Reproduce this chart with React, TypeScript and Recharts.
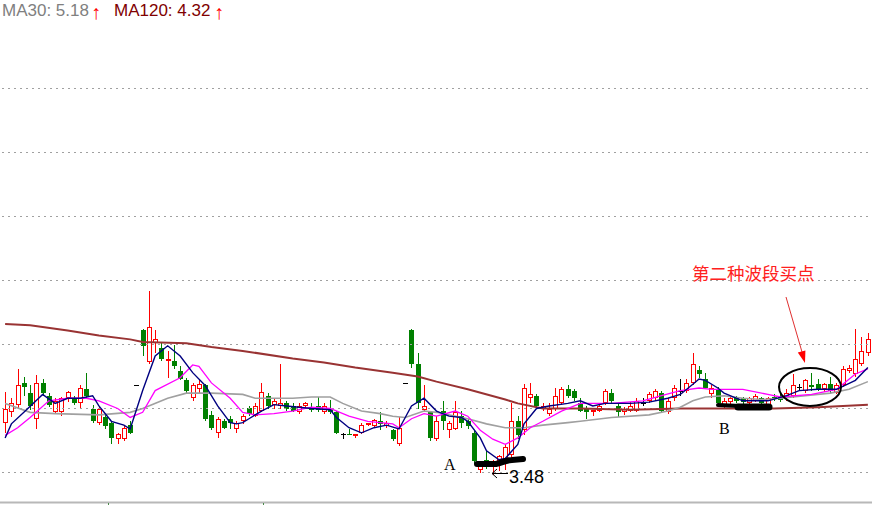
import React from "react";
import { Bar, ComposedChart, Line, ReferenceLine, XAxis, YAxis } from "recharts";

// daily candles, left to right (price, yuan)
const opens = [
  3.89, 3.97, 4.03, 4.2, 4.12, 3.92, 4.2, 4.1, 3.97, 3.97, 4.08, 4.08, 4.04, 4.15, 4.0, 3.89, 3.93, 3.89, 3.76, 3.76,
  3.87, 4.18, 4.61, 4.36, 4.51, 4.47, 4.37, 4.37, 4.29, 4.22, 4.08, 4.15, 4.18, 3.95, 3.81, 3.9, 3.92, 3.84, 3.9, 4.0,
  3.94, 3.98, 4.1, 4.03, 4.02, 4.04, 4.02, 3.97, 4.02, 4.01, 4.02, 3.97, 4.0, 3.97, 3.8, 3.8, 3.79, 3.81, 3.87, 3.86,
  3.9, 3.86, 3.83, 3.72, 4.2, 4.61, 4.35, 3.99, 3.97, 3.76, 3.98, 3.83, 3.84, 3.94, 3.9, 3.81, 3.52, 3.6, 3.54, 3.56,
  3.59, 3.64, 3.9, 3.83, 4.08, 4.1, 4.0, 3.96, 4.0, 4.04, 4.15, 4.14, 4.04, 4.0, 3.97, 3.98, 4.04, 4.12, 4.02, 3.97,
  3.98, 3.98, 4.04, 4.06, 4.08, 4.12, 3.97, 4.08, 4.14, 4.14, 4.2, 4.3, 4.23, 4.11, 4.15, 4.02, 4.05, 4.09, 4.08, 4.04,
  4.06, 4.08, 4.02, 4.09, 4.09, 4.08, 4.1, 4.17, 4.14, 4.18, 4.19, 4.15, 4.19, 4.12, 4.18, 4.29, 4.27, 4.35, 4.43,
];
const highs = [
  4.13, 4.08, 4.31, 4.25, 4.18, 4.26, 4.23, 4.12, 4.08, 4.09, 4.14, 4.1, 4.18, 4.28, 4.03, 4.01, 3.96, 3.9, 3.81, 3.87,
  3.9, 4.18, 4.62, 4.92, 4.61, 4.51, 4.45, 4.5, 4.33, 4.24, 4.2, 4.22, 4.19, 3.98, 3.93, 3.92, 3.94, 3.9, 3.96, 4.02,
  4.04, 4.2, 4.12, 4.08, 4.35, 4.06, 4.04, 4.04, 4.05, 4.04, 4.09, 4.04, 4.07, 3.98, 3.81, 3.84, 3.8, 3.89, 3.89, 3.92,
  3.97, 3.9, 3.84, 3.93, 4.2, 4.62, 4.43, 4.18, 3.98, 3.94, 4.06, 3.9, 4.06, 3.98, 3.92, 3.83, 3.56, 3.67, 3.6, 3.64,
  3.72, 4.04, 3.94, 4.19, 4.2, 4.11, 4.04, 4.04, 4.16, 4.17, 4.18, 4.15, 4.08, 4.02, 3.99, 4.04, 4.15, 4.15, 4.04, 4.01,
  4.05, 4.08, 4.08, 4.13, 4.15, 4.14, 4.08, 4.18, 4.23, 4.23, 4.43, 4.33, 4.28, 4.18, 4.17, 4.08, 4.09, 4.1, 4.09, 4.09,
  4.11, 4.09, 4.09, 4.11, 4.12, 4.15, 4.27, 4.19, 4.23, 4.28, 4.23, 4.2, 4.25, 4.2, 4.33, 4.34, 4.62, 4.56, 4.59,
];
const lows = [
  3.81, 3.93, 4.0, 4.1, 3.99, 3.84, 4.1, 4.01, 3.96, 3.94, 4.05, 4.03, 4.0, 4.08, 3.89, 3.87, 3.84, 3.72, 3.72, 3.75,
  3.8, 4.18, 4.41, 4.35, 4.43, 4.37, 4.24, 4.31, 4.22, 4.12, 4.06, 4.12, 3.9, 3.83, 3.77, 3.84, 3.84, 3.81, 3.88, 3.94,
  3.93, 3.97, 4.0, 4.0, 4.0, 3.98, 3.97, 3.96, 4.0, 3.97, 3.97, 3.96, 3.96, 3.8, 3.76, 3.79, 3.77, 3.8, 3.86, 3.85,
  3.83, 3.85, 3.75, 3.71, 4.2, 4.32, 4.0, 3.97, 3.75, 3.75, 3.83, 3.77, 3.83, 3.85, 3.84, 3.57, 3.5, 3.53, 3.48, 3.51,
  3.52, 3.61, 3.76, 3.79, 4.04, 4.0, 3.98, 3.94, 3.98, 4.03, 4.08, 4.06, 3.97, 3.92, 3.94, 3.97, 4.03, 4.04, 3.93, 3.95,
  3.97, 3.97, 4.02, 4.04, 4.06, 3.97, 3.96, 4.06, 4.1, 4.12, 4.18, 4.24, 4.15, 4.08, 4.02, 4.0, 4.03, 4.04, 4.03, 4.03,
  4.05, 4.02, 4.0, 4.06, 4.05, 4.06, 4.08, 4.14, 4.12, 4.14, 4.14, 4.13, 4.11, 4.11, 4.17, 4.28, 4.25, 4.33, 4.41,
];
const closes = [
  4.0, 4.04, 4.18, 4.17, 4.02, 4.2, 4.12, 4.03, 4.06, 4.08, 4.13, 4.04, 4.16, 4.1, 3.9, 4.0, 3.86, 3.77, 3.8, 3.85,
  3.81, 4.18, 4.49, 4.64, 4.54, 4.39, 4.39, 4.33, 4.23, 4.14, 4.18, 4.19, 3.92, 3.85, 3.92, 3.85, 3.89, 3.89, 3.94, 3.96,
  4.02, 4.13, 4.02, 4.06, 4.04, 4.0, 3.98, 4.02, 4.04, 3.99, 3.99, 4.02, 3.97, 3.81, 3.8, 3.79, 3.8, 3.87, 3.89, 3.91,
  3.88, 3.89, 3.76, 3.85, 4.2, 4.35, 4.04, 4.02, 3.77, 3.9, 3.9, 3.89, 3.97, 3.89, 3.86, 3.59, 3.55, 3.56, 3.59, 3.63,
  3.7, 3.9, 3.79, 4.16, 4.11, 4.02, 4.02, 4.0, 4.1, 4.15, 4.1, 4.08, 3.98, 3.97, 3.99, 4.02, 4.14, 4.06, 3.97, 4.0,
  4.02, 4.06, 4.04, 4.11, 4.14, 3.98, 4.06, 4.16, 4.14, 4.2, 4.35, 4.27, 4.16, 4.16, 4.04, 4.06, 4.08, 4.06, 4.05, 4.08,
  4.1, 4.04, 4.08, 4.08, 4.07, 4.12, 4.18, 4.17, 4.22, 4.17, 4.15, 4.19, 4.14, 4.18, 4.31, 4.32, 4.39, 4.45, 4.54,
];

// moving averages as [candle index, value]
const ma5Points = [
  [0, 3.77], [1, 3.88], [3, 3.97], [6, 4.11], [8, 4.04], [10, 4.08], [12, 4.08], [14, 4.1], [15, 4.02], [17, 3.9],
  [19, 3.87], [20, 3.84], [22, 4.14], [24, 4.41], [26, 4.49], [28, 4.41], [30, 4.28], [32, 4.18], [34, 4.02], [36, 3.89],
  [37, 3.88], [38, 3.89], [39, 3.92], [41, 3.98], [43, 4.03], [45, 4.02], [49, 4.0], [52, 3.99], [53, 3.93], [55, 3.85],
  [57, 3.81], [59, 3.85], [61, 3.87], [63, 3.84], [64, 3.93], [65, 4.02], [67, 4.08], [69, 3.98], [71, 3.94], [73, 3.93],
  [74, 3.9], [76, 3.77], [77, 3.67], [79, 3.6], [80, 3.61], [82, 3.72], [83, 3.88], [85, 4.0], [87, 4.02], [90, 4.04],
  [92, 4.06], [94, 4.02], [96, 4.04], [100, 4.04], [103, 4.05], [106, 4.08], [108, 4.11], [110, 4.19], [111, 4.23],
  [112, 4.22], [114, 4.16], [115, 4.12], [118, 4.06], [122, 4.06], [125, 4.1], [127, 4.14], [130, 4.15], [133, 4.15],
  [136, 4.22], [138, 4.32],
];
const ma10Points = [
  [0, 3.79], [2, 3.85], [4, 3.93], [7, 4.06], [10, 4.08], [13, 4.08], [15, 4.06], [18, 4.0], [20, 3.93], [22, 3.97],
  [24, 4.14], [28, 4.24], [30, 4.34], [31, 4.33], [33, 4.2], [36, 4.08], [38, 3.97], [40, 3.95], [43, 3.96], [46, 3.98],
  [49, 4.01], [52, 4.0], [55, 3.94], [58, 3.9], [62, 3.88], [63, 3.85], [65, 3.92], [67, 3.96], [69, 3.94], [72, 3.98],
  [74, 3.94], [76, 3.83], [78, 3.76], [80, 3.72], [82, 3.77], [84, 3.85], [86, 3.9], [89, 3.98], [92, 4.04], [95, 4.04],
  [97, 4.04], [102, 4.06], [105, 4.1], [108, 4.14], [111, 4.16], [113, 4.15], [115, 4.15], [118, 4.15], [122, 4.11],
  [124, 4.09], [129, 4.11], [133, 4.15], [136, 4.27], [138, 4.31],
];
const ma30Points = [
  [0, 4.04], [4, 3.97], [8, 3.96], [15, 3.95], [20, 3.97], [22, 4.0], [26, 4.08], [29, 4.12], [33, 4.12], [38, 4.11],
  [40, 4.08], [46, 4.08], [49, 4.09], [52, 4.09], [54, 4.04], [57, 3.98], [60, 3.96], [62, 3.94], [64, 3.93], [67, 3.98],
  [69, 3.97], [74, 3.92], [77, 3.88], [80, 3.85], [83, 3.85], [86, 3.87], [90, 3.89], [92, 3.9], [97, 3.93], [103, 3.95],
  [106, 3.98], [108, 4.01], [110, 4.06], [112, 4.09], [115, 4.1], [118, 4.08], [121, 4.07], [124, 4.08], [128, 4.1],
  [132, 4.12], [135, 4.15], [138, 4.21],
];
const ma120Points = [
  [0, 4.66], [4, 4.65], [10, 4.61], [15, 4.57], [20, 4.54], [22, 4.52], [29, 4.51], [33, 4.48], [38, 4.45], [46, 4.39],
  [51, 4.36], [56, 4.32], [62, 4.28], [66, 4.25], [69, 4.21], [74, 4.15], [80, 4.07], [82, 4.04], [86, 4.0], [92, 4.0],
  [100, 3.99], [108, 4.0], [115, 4.0], [123, 4.0], [130, 4.01], [138, 4.03],
];

const gridPrices = [3.5, 4, 4.5, 5, 5.5, 6, 6.5];
const priceDomain: [number, number] = [3.24609375, 7.19140625];

const UP = "#ff0000";
const DOWN = "#008000";

const N = opens.length;
const toSeries = (pts: number[][]) => {
  const s: (number | null)[] = new Array(N).fill(null);
  pts.forEach(([i, v]) => {
    s[i] = v;
  });
  return s;
};
const ma5 = toSeries(ma5Points);
const ma10 = toSeries(ma10Points);
const ma30 = toSeries(ma30Points);
const ma120 = toSeries(ma120Points);

const data = opens.map((open, i) => ({
  idx: i,
  open,
  high: highs[i],
  low: lows[i],
  close: closes[i],
  range: [lows[i], highs[i]],
  ma5: ma5[i],
  ma10: ma10[i],
  ma30: ma30[i],
  ma120: ma120[i],
}));

function Candle(props: any) {
  const { x, y, width, height, payload } = props;
  if (x == null || y == null || !payload) return null;
  const { open, close, high, low } = payload;
  const c = Math.round(x + width / 2);
  const cx = c + 0.5;
  const top = Math.min(y, y + (height || 0));
  const bottom = Math.max(y, y + (height || 0));
  const span = high - low;
  const toPx = (v: number) => (span > 0 ? top + ((high - v) / span) * (bottom - top) : top);
  const oy = Math.round(toPx(open));
  const cy = Math.round(toPx(close));

  if (close > open) {
    return (
      <g shapeRendering="crispEdges">
        <line x1={cx} x2={cx} y1={top} y2={cy} stroke={UP} />
        <line x1={cx} x2={cx} y1={oy} y2={bottom} stroke={UP} />
        <rect x={c - 1.5} y={cy + 0.5} width={4} height={Math.max(oy - cy - 1, 1)} fill="#fff" stroke={UP} />
      </g>
    );
  }
  if (close < open) {
    return (
      <g shapeRendering="crispEdges">
        <line x1={cx} x2={cx} y1={top} y2={bottom} stroke={DOWN} />
        <rect x={c - 2} y={oy} width={5} height={Math.max(cy - oy, 1)} fill={DOWN} />
      </g>
    );
  }
  return (
    <g shapeRendering="crispEdges">
      {span > 0 && <line x1={cx} x2={cx} y1={top} y2={bottom} stroke="#000" />}
      <line x1={c - 2} x2={c + 3} y1={oy + 0.5} y2={oy + 0.5} stroke="#000" />
    </g>
  );
}

export default function App() {
  return (
    <div
      style={{
        position: "absolute",
        left: 0,
        top: 0,
        width: 872,
        height: 505,
        background: "#fff",
        overflow: "hidden",
      }}
    >
      <ComposedChart
        width={872}
        height={505}
        data={data}
        margin={{ top: 0, right: 1, left: 2, bottom: 0 }}
        barCategoryGap={0}
      >
        <XAxis dataKey="idx" hide />
        <YAxis hide domain={priceDomain} allowDataOverflow />
        {gridPrices.map((p) => (
          <ReferenceLine key={p} y={p} stroke="#a0a0a0" strokeDasharray="2 4" />
        ))}
        <Line
          type="linear"
          dataKey="ma120"
          stroke="#993333"
          strokeWidth={2}
          dot={false}
          connectNulls
          isAnimationActive={false}
        />
        <Line
          type="linear"
          dataKey="ma30"
          stroke="#a0a0a0"
          strokeWidth={1.6}
          dot={false}
          connectNulls
          isAnimationActive={false}
        />
        <Bar dataKey="range" shape={(p: any) => <Candle {...p} />} isAnimationActive={false} />
        <Line
          type="linear"
          dataKey="ma10"
          stroke="#ff00ff"
          strokeWidth={1.3}
          dot={false}
          connectNulls
          isAnimationActive={false}
        />
        <Line
          type="linear"
          dataKey="ma5"
          stroke="#000080"
          strokeWidth={1.4}
          dot={false}
          connectNulls
          isAnimationActive={false}
        />
      </ComposedChart>

      <svg
        width={872}
        height={505}
        style={{ position: "absolute", left: 0, top: 0, pointerEvents: "none" }}
      >
        {/* header */}
        <g fontFamily="'Liberation Sans', Arial, sans-serif" fontSize={17}>
          <text x={2} y={16} fill="#808080">
            MA30: 5.18
          </text>
          <text x={91} y={19} fill="#ff0000" fontWeight="bold" fontSize={20}>
            ↑
          </text>
          <text x={114} y={16} fill="#800000">
            MA120: 4.32
          </text>
          <text x={214} y={19} fill="#ff0000" fontWeight="bold" fontSize={20}>
            ↑
          </text>
        </g>

        {/* bottom separator */}
        <line x1={0} x2={872} y1={502.5} y2={502.5} stroke="#b8b8b8" strokeWidth={2} />
        <line x1={108.5} x2={108.5} y1={503} y2={505} stroke="#4a8a4a" />
        <line x1={263.5} x2={263.5} y1={503} y2={505} stroke="#4a8a4a" />

        {/* hand marks */}
        <path
          d="M 477 464 L 496 464 C 502 463 505 460 512 460 L 523 459"
          stroke="#000"
          strokeWidth={6}
          strokeLinecap="round"
          fill="none"
        />
        <path d="M 718 405 L 740 406" stroke="#000" strokeWidth={4} strokeLinecap="round" fill="none" />
        <path d="M 738 407 L 769 407" stroke="#000" strokeWidth={7} strokeLinecap="round" fill="none" />
        <ellipse cx={810} cy={387} rx={31} ry={19} stroke="#000" strokeWidth={2} fill="none" />

        <text x={444} y={470} fontFamily="'Liberation Serif', 'Times New Roman', serif" fontSize={16} fill="#000">
          A
        </text>
        <text x={719} y={434} fontFamily="'Liberation Serif', 'Times New Roman', serif" fontSize={16} fill="#000">
          B
        </text>

        <g stroke="#000" strokeWidth={1} fill="none">
          <line x1={492} x2={508} y1={473.5} y2={473.5} />
          <line x1={492} x2={497} y1={473.5} y2={469} />
          <line x1={492} x2={497} y1={473.5} y2={478} />
        </g>
        <text x={509} y={483} fontFamily="'Liberation Sans', Arial, sans-serif" fontSize={18} fill="#000">
          3.48
        </text>

        <text x={692} y={280} fontFamily="'Noto Sans CJK SC', sans-serif" fontSize={17.5} fill="#ff2020">
          第二种波段买点
        </text>
        <line x1={786} y1={297} x2={802} y2={352} stroke="#e03030" strokeWidth={1} />
        <polygon points="805,363 805.4,350.4 797.8,352.6" fill="#ff0000" />
      </svg>
    </div>
  );
}
